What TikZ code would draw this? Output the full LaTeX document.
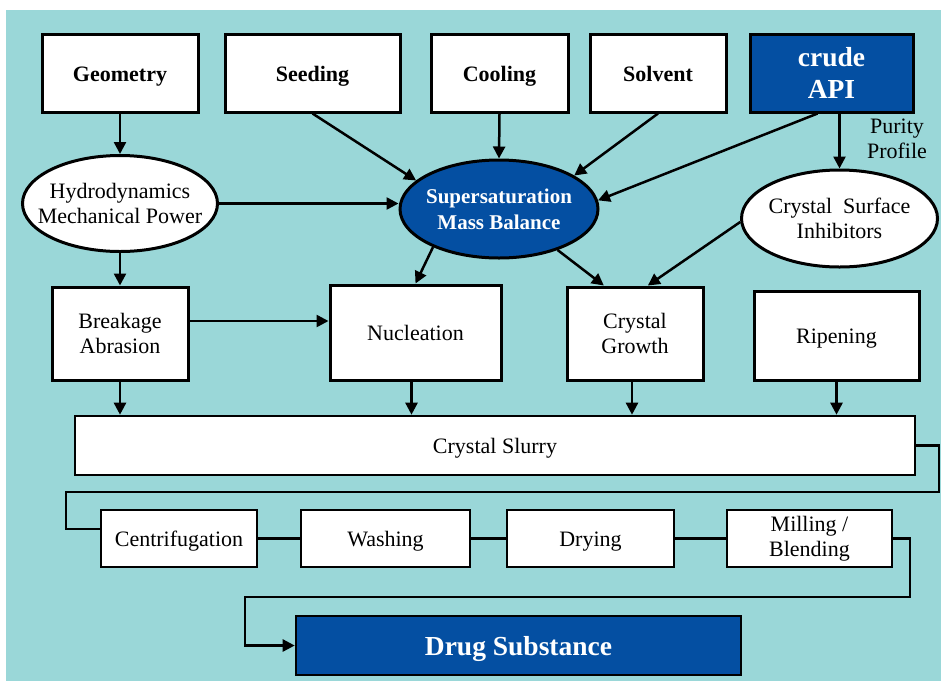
\documentclass[tikz,border=0pt]{standalone}
\usepackage{fontspec}
\setmainfont{Liberation Serif}
\usetikzlibrary{arrows.meta,shapes.geometric}
\definecolor{bgc}{HTML}{9AD7D8}
\definecolor{dblue}{HTML}{044FA2}
\begin{document}
\begin{tikzpicture}[x=1pt,y=-1pt,
  txt/.style={font=\fontsize{22}{25.5}\selectfont, align=center, inner sep=0pt},
  one/.style={text height=16pt, text depth=0pt},
  box/.style={draw=black, line width=3pt, fill=white, rectangle, inner sep=0pt, align=center, font=\fontsize{22}{25.5}\selectfont},
  lowbox/.style={box, line width=2.6pt},
  topbox/.style={box, one, font=\fontsize{22}{25.5}\selectfont\bfseries},
  bluebox/.style={box, fill=dblue, text=white, font=\fontsize{27.5}{31.5}\selectfont\bfseries},
  oval/.style={draw=black, line width=3pt, fill=white, ellipse, inner sep=0pt},
  arr/.style={draw=black, line width=2.5pt, -{Triangle[length=12pt,width=12pt]}},
  ln/.style={draw=black, line width=2.5pt}]
\useasboundingbox (0,0) rectangle (941,681);
\fill[white] (0,0) rectangle (941,681);
\fill[bgc] (6,10) rectangle (941,681);

% top row
\node[topbox, minimum width=156pt, minimum height=78pt] (geo) at (120,73) {Geometry};
\node[topbox, minimum width=175pt, minimum height=78pt] (seed) at (312.5,73) {Seeding};
\node[topbox, minimum width=137pt, minimum height=78pt] (cool) at (499.5,73) {Cooling};
\node[topbox, minimum width=136pt, minimum height=78pt] (solv) at (658,73) {Solvent};
\node[bluebox, minimum width=163pt, minimum height=78pt] (api) at (831.5,73) {crude\\API};

% ellipses
\node[oval, minimum width=195pt, minimum height=96pt] (hydro) at (120,203.5) {};
\node[txt] (hydroT) at (hydro) {Hydrodynamics\\Mechanical Power};
\node[oval, fill=dblue, minimum width=198pt, minimum height=98pt] (super) at (499,209) {};
\node[txt, text=white, font=\fontsize{21}{26}\selectfont\bfseries] (superT) at (super) {Supersaturation\\Mass Balance};
\node[oval, minimum width=196pt, minimum height=97pt] (csi) at (839.5,218.5) {};
\node[txt] (csiT) at (csi) {Crystal\ \ Surface\\Inhibitors};
\node[txt] (pur) at (897,139) {Purity\\Profile};

% mechanisms
\node[box, minimum width=136pt, minimum height=93pt] (brk) at (120,333.5) {Breakage\\Abrasion};
\node[box, one, minimum width=171pt, minimum height=95pt] (nucl) at (415.5,332.5) {Nucleation};
\node[box, minimum width=136pt, minimum height=93pt] (grow) at (635,333.5) {Crystal\\Growth};
\node[box, one, minimum width=165pt, minimum height=89pt] (ripen) at (836.5,335.5) {Ripening};

% slurry and downstream
\node[lowbox, one, minimum width=840pt, minimum height=59pt] (slurry) at (495,445.5) {Crystal Slurry};
\node[lowbox, one, minimum width=156pt, minimum height=57pt] (cent) at (179,538.5) {Centrifugation};
\node[lowbox, one, minimum width=169pt, minimum height=57pt] (wash) at (385.5,538.5) {Washing};
\node[lowbox, one, minimum width=167pt, minimum height=57pt] (dry) at (590.5,538.5) {Drying};
\node[lowbox, minimum width=165pt, minimum height=57pt] (mill) at (809.5,538.5) {Milling /\\Blending};
\node[bluebox, one, line width=2.6pt, text height=19pt, minimum width=445pt, minimum height=59pt] (drug) at (518.5,645.5) {Drug Substance};

% connectors top
\draw[arr] (geo.south) -- (hydro.north);
\draw[arr] (seed.south) -- (super.161);
\draw[arr] (cool.south) -- (super.north);
\draw[arr] (solv.south) -- (super.24);
\draw[arr] (api.251) -- (super.5);
\draw[arr] (api.south -| csi.north) -- (csi.north);
\draw[arr] (hydro.east) -- (hydro.east -| super.west);
\draw[arr] (hydro.south) -- (brk.north);
\draw[arr] (super.210) -- (nucl.north);
\draw[arr] (super.-35) -- (grow.123);
\draw[arr] (csi.182) -- (grow.75);
\draw[arr] ([yshift=12.5pt]brk.east) -- ([yshift=12.5pt]brk.east -| nucl.west);

% to slurry
\draw[arr] (brk.south) -- (brk.south |- slurry.north);
\draw[arr] ([xshift=-4pt]nucl.south) -- ([xshift=-4pt]nucl.south |- slurry.north);
\draw[arr] ([xshift=-3pt]grow.south) -- ([xshift=-3pt]grow.south |- slurry.north);
\draw[arr] (ripen.south) -- (ripen.south |- slurry.north);

% process line
\coordinate (t1) at (939,492);
\coordinate (t2) at (66,529);
\draw[ln] (slurry.east) -| (t1) -- (t1 -| t2) -- (t2) -- (t2 -| cent.west);
\draw[ln] (cent.east) -- (wash.west);
\draw[ln] (wash.east) -- (dry.west);
\draw[ln] (dry.east) -- (mill.west);
\coordinate (t3) at (910,597);
\coordinate (t4) at (245,597);
\draw[arr] (mill.east) -| (t3) -- (t4) |- (drug.west);
\end{tikzpicture}
\end{document}
